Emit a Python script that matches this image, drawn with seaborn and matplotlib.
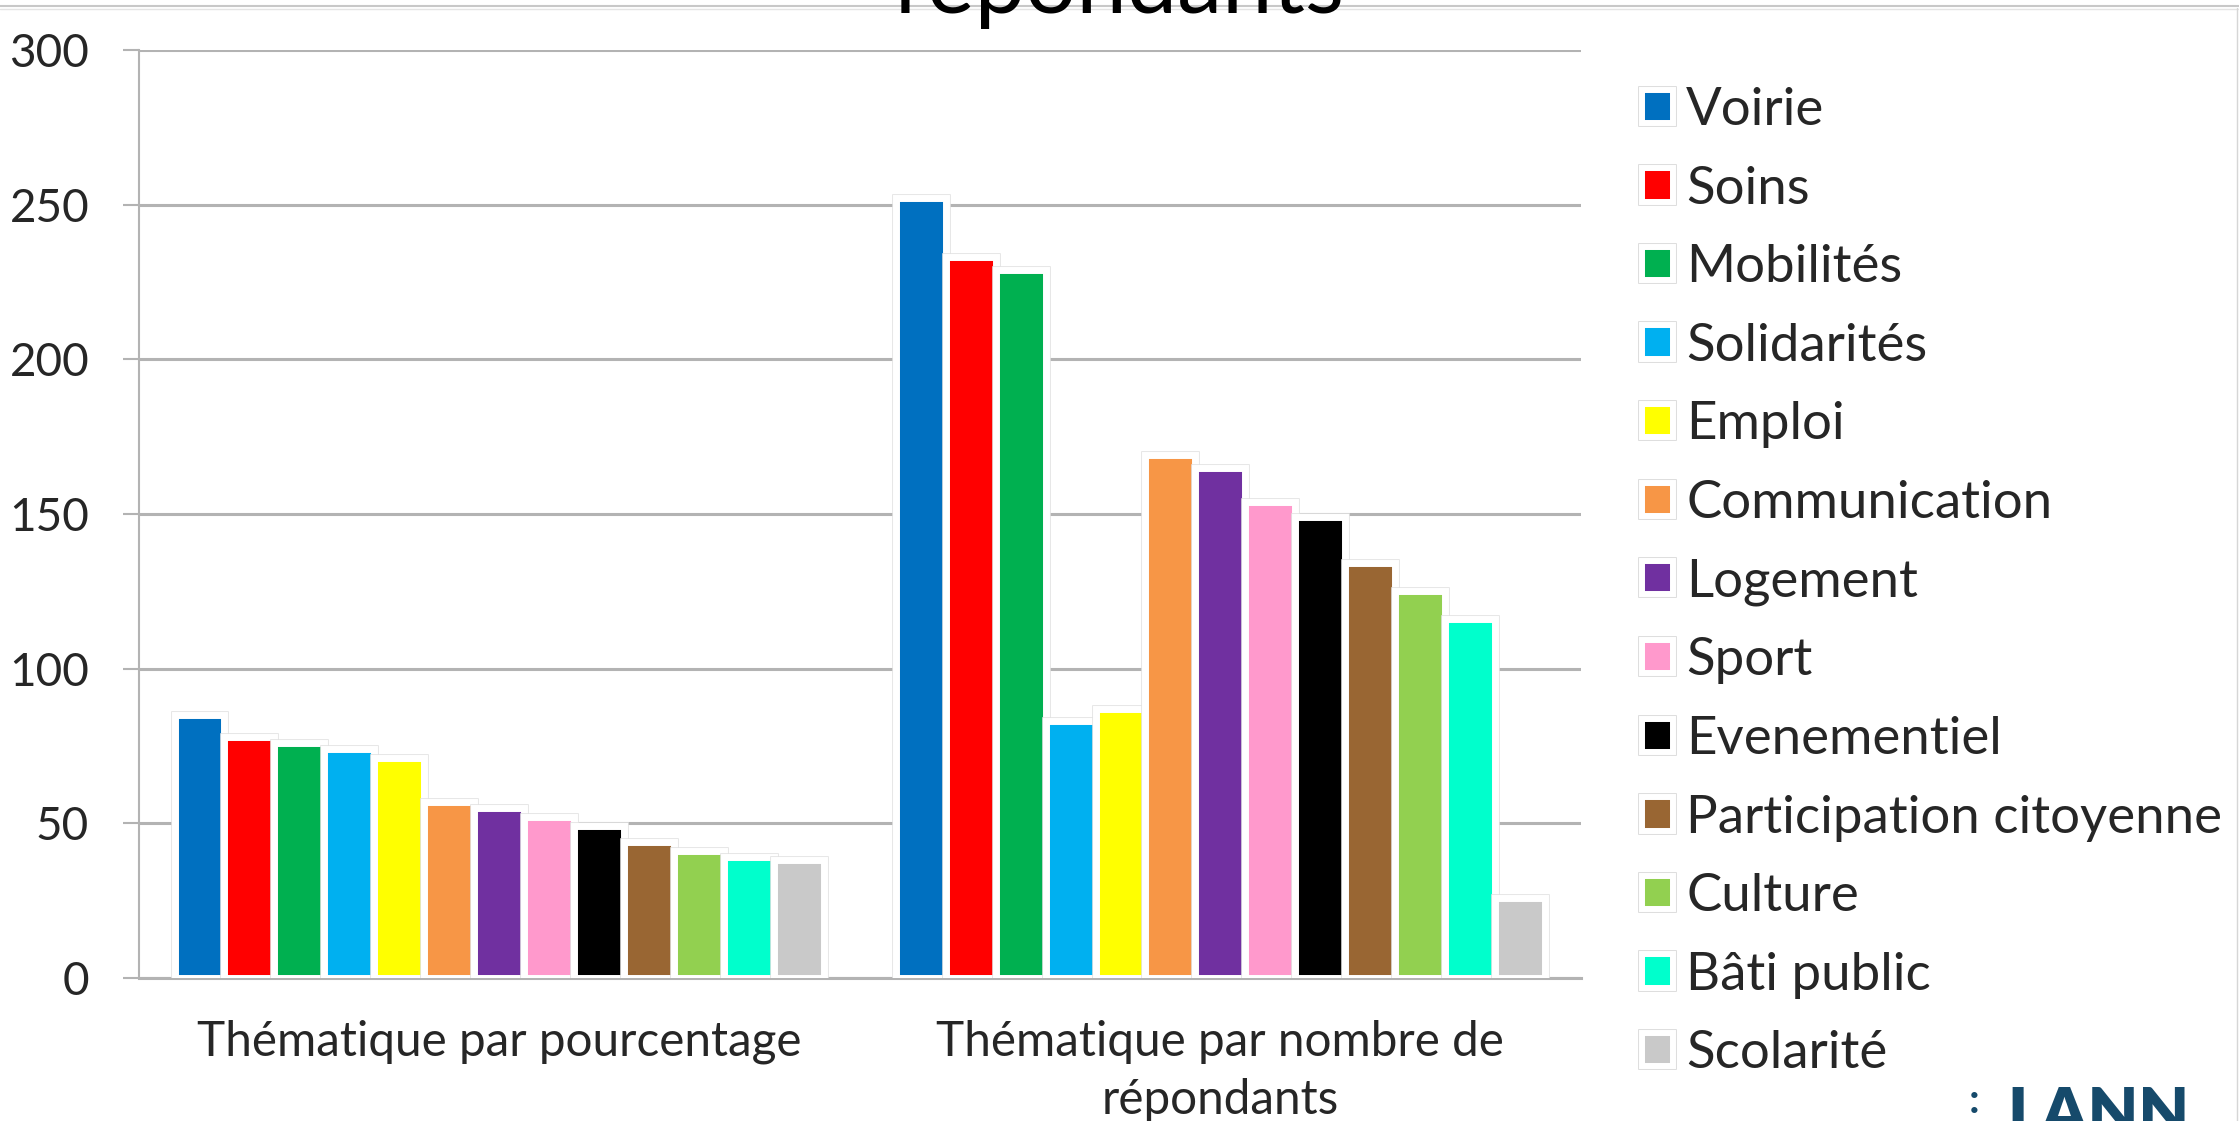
import matplotlib
matplotlib.use("Agg")
import matplotlib.pyplot as plt
import pandas as pd
import seaborn as sns
from matplotlib.patches import Patch
from matplotlib.lines import Line2D
from matplotlib import patheffects as pe

# Data
groupes = ["Thématique par pourcentage", "Thématique par nombre de\nrépondants"]
thematiques = ["Voirie", "Soins", "Mobilités", "Solidarités", "Emploi",
               "Communication", "Logement", "Sport", "Evenementiel",
               "Participation citoyenne", "Culture", "Bâti public", "Scolarité"]
par_pourcentage = [85, 78, 76, 74, 71, 57, 55, 52, 49, 44, 41, 39, 38]
par_repondants = [252, 233, 229, 83, 87, 169, 165, 154, 149, 134, 125, 116, 26]
couleurs = ["#0070C0", "#FF0000", "#00B050", "#00B0F0", "#FFFF00", "#F79646",
            "#7030A0", "#FF99CC", "#000000", "#996633", "#92D050", "#00FFCC",
            "#C9C9C9"]
yticks = [0, 50, 100, 150, 200, 250, 300]

df = pd.DataFrame({
    "groupe": [groupes[0]] * len(thematiques) + [groupes[1]] * len(thematiques),
    "thème": thematiques * 2,
    "valeur": par_pourcentage + par_repondants,
})

sns.set_style("white")
plt.rcParams["font.family"] = ["Lato", "DejaVu Sans"]

W, H = 2239, 1121
fig = plt.figure(figsize=(W / 100, H / 100), dpi=100)
ax = fig.add_axes([138.5 / W, (H - 978) / H, (1581 - 138.5) / W, (978 - 50) / H])

sns.barplot(data=df, x="groupe", y="valeur", hue="thème", order=groupes,
            hue_order=thematiques, palette=couleurs, saturation=1,
            width=0.9, gap=0, edgecolor="white", linewidth=5,
            legend=False, ax=ax, zorder=3)

for bar in ax.patches:
    bar.set_path_effects([pe.Stroke(linewidth=6.2, foreground="#e2e2e2"),
                          pe.Normal()])

grid_col = "#b3b3b3"
ax.set_ylim(0, 300)
ax.set_xlim(-0.5, 1.5)
ax.set_yticks(yticks)
ax.set_yticklabels([str(v) for v in yticks], fontsize=33)
ax.yaxis.grid(True, color=grid_col, linewidth=2.2, zorder=0)
ax.set_axisbelow(True)
ax.set_xlabel("")
ax.set_ylabel("")

ax.set_xticks([0, 1])
ax.set_xticklabels(groupes, fontsize=34.3, linespacing=1.41)
ax.set_xticks([-0.5, 0.5, 1.5], minor=True)
ax.tick_params(axis="x", which="major", length=0, pad=30)
ax.tick_params(axis="x", which="minor", length=13, width=1.5,
               color=grid_col, direction="out")
ax.tick_params(axis="y", which="major", length=11.5, width=1.5,
               color=grid_col, direction="out", pad=24, left=True)

for side in ["top", "right"]:
    ax.spines[side].set_visible(False)
ax.spines["left"].set_color(grid_col)
ax.spines["left"].set_linewidth(1.5)
ax.spines["bottom"].set_color(grid_col)
ax.spines["bottom"].set_linewidth(2.2)

# Legend: coloured squares with a white rim and a faint grey outline
handles = []
for c in couleurs:
    h = Patch(facecolor=c, edgecolor="white", linewidth=4.3)
    h.set_path_effects([pe.Stroke(linewidth=5.5, foreground="#d8d8d8"),
                        pe.Normal()])
    handles.append(h)
fig.legend(handles, thematiques, loc="upper left",
           bbox_to_anchor=(1642 / W, 1 - 87 / H), frameon=False,
           fontsize=38, handlelength=0.59, handleheight=0.59,
           handletextpad=0.25, labelspacing=0.598, borderpad=0,
           borderaxespad=0)

# Title (second line, cut at the top edge)
fig.text(0.5, 1 - 13 / H, "répondants", ha="center", va="baseline",
         fontsize=65, color="black")

# Frame lines at the top and right edges
fig.add_artist(Line2D([0, 1], [1 - 6 / H] * 2, transform=fig.transFigure,
                      color="#c8c8c8", linewidth=1.5))
fig.add_artist(Line2D([0, 1], [1 - 8.5 / H] * 2, transform=fig.transFigure,
                      color="#e4e4e4", linewidth=1))
fig.add_artist(Line2D([2237 / W] * 2, [0, 1 - 8 / H], transform=fig.transFigure,
                      color="#d6d6d6", linewidth=1))

# Logo
fig.text(1974 / W, 8 / H, ":", ha="center", va="baseline", fontsize=30,
         fontweight="bold", color="#164a6b")
fig.text(2007 / W, 1 - 1086 / H, "LANN", ha="left", va="top", fontsize=47,
         fontweight="heavy", color="#164a6b")

fig.savefig("out.png", dpi=100)
